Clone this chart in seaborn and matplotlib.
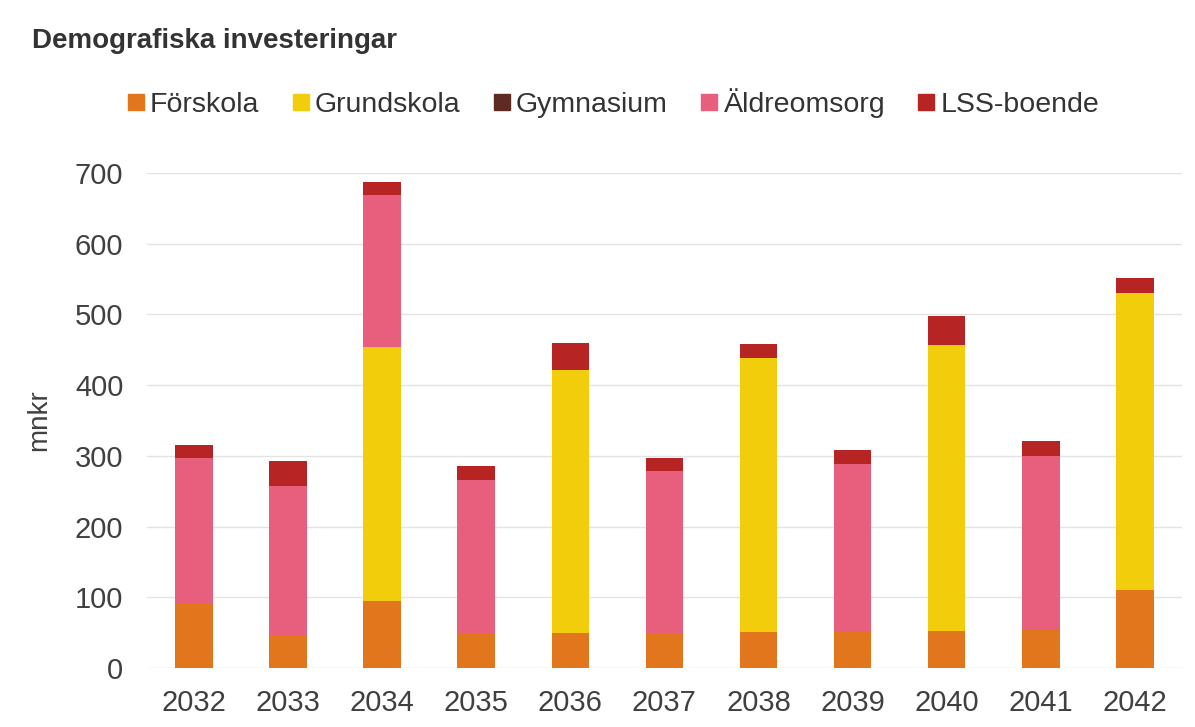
import numpy as np
import pandas as pd
import seaborn as sns
import matplotlib.pyplot as plt
from matplotlib.lines import Line2D

# data (mnkr)
years = ['2032', '2033', '2034', '2035', '2036', '2037', '2038', '2039', '2040', '2041', '2042']
forskola = [91, 46, 95, 48, 49, 49, 51, 52, 52, 54, 110]
grundskola = [0, 0, 359, 0, 372, 0, 388, 0, 405, 0, 421]
gymnasium = [0, 0, 0, 0, 0, 0, 0, 0, 0, 0, 0]
aldreomsorg = [206, 211, 215, 218, 0, 229, 0, 237, 0, 246, 0]
lss = [18, 36, 19, 20, 39, 19, 19, 20, 41, 21, 21]

series_names = ['Förskola', 'Grundskola', 'Gymnasium', 'Äldreomsorg', 'LSS-boende']
series_vals = [forskola, grundskola, gymnasium, aldreomsorg, lss]
colors = ['#E1761C', '#F2CD0C', '#5E2B22', '#E75F7C', '#B72424']

sns.set_theme(style='white')
plt.rcParams['font.family'] = ['Liberation Sans', 'DejaVu Sans']

# cumulative tops, drawn from the top layer down so each layer overlaps the next
cum = np.cumsum(np.array(series_vals), axis=0)
df = pd.DataFrame({'year': years})
for name, c in zip(series_names, cum):
    df[name] = c

fig = plt.figure(figsize=(11.95, 7.27), dpi=100)
ax = fig.add_axes([0.123, 0.081, 0.866, 0.681])

for name, col in reversed(list(zip(series_names, colors))):
    sns.barplot(data=df, x='year', y=name, color=col, width=0.4,
                saturation=1, linewidth=0, edgecolor='none', ax=ax, zorder=3)

ax.set_ylim(0, 700)
ax.set_yticks(range(0, 701, 100))
ax.set_xlim(-0.5, len(years) - 0.5)
ax.grid(axis='y', color='#E3E3E3', linewidth=1, zorder=0)
ax.set_axisbelow(True)
sns.despine(ax=ax, left=True, bottom=True)
ax.tick_params(axis='both', length=0, labelsize=21, colors='#404040')
ax.tick_params(axis='y', pad=17)
ax.tick_params(axis='x', pad=15)
ax.set_xlabel('')
ax.set_ylabel('mnkr', fontsize=20, color='#404040', labelpad=16)

fig.text(0.027, 0.944, 'Demografiska investeringar', fontsize=20,
         fontweight='bold', color='#333333', ha='left', va='center')

handles = [Line2D([], [], marker='s', linestyle='none', markersize=11,
                  markerfacecolor=c, markeredgecolor=c) for c in colors]
fig.legend(handles, series_names, loc='center', bbox_to_anchor=(0.512, 0.858),
           ncol=5, frameon=False, fontsize=20.5, handletextpad=0.1,
           columnspacing=1.05, handlelength=0.8, labelcolor='#333333')

fig.savefig('out.png', dpi=100)
